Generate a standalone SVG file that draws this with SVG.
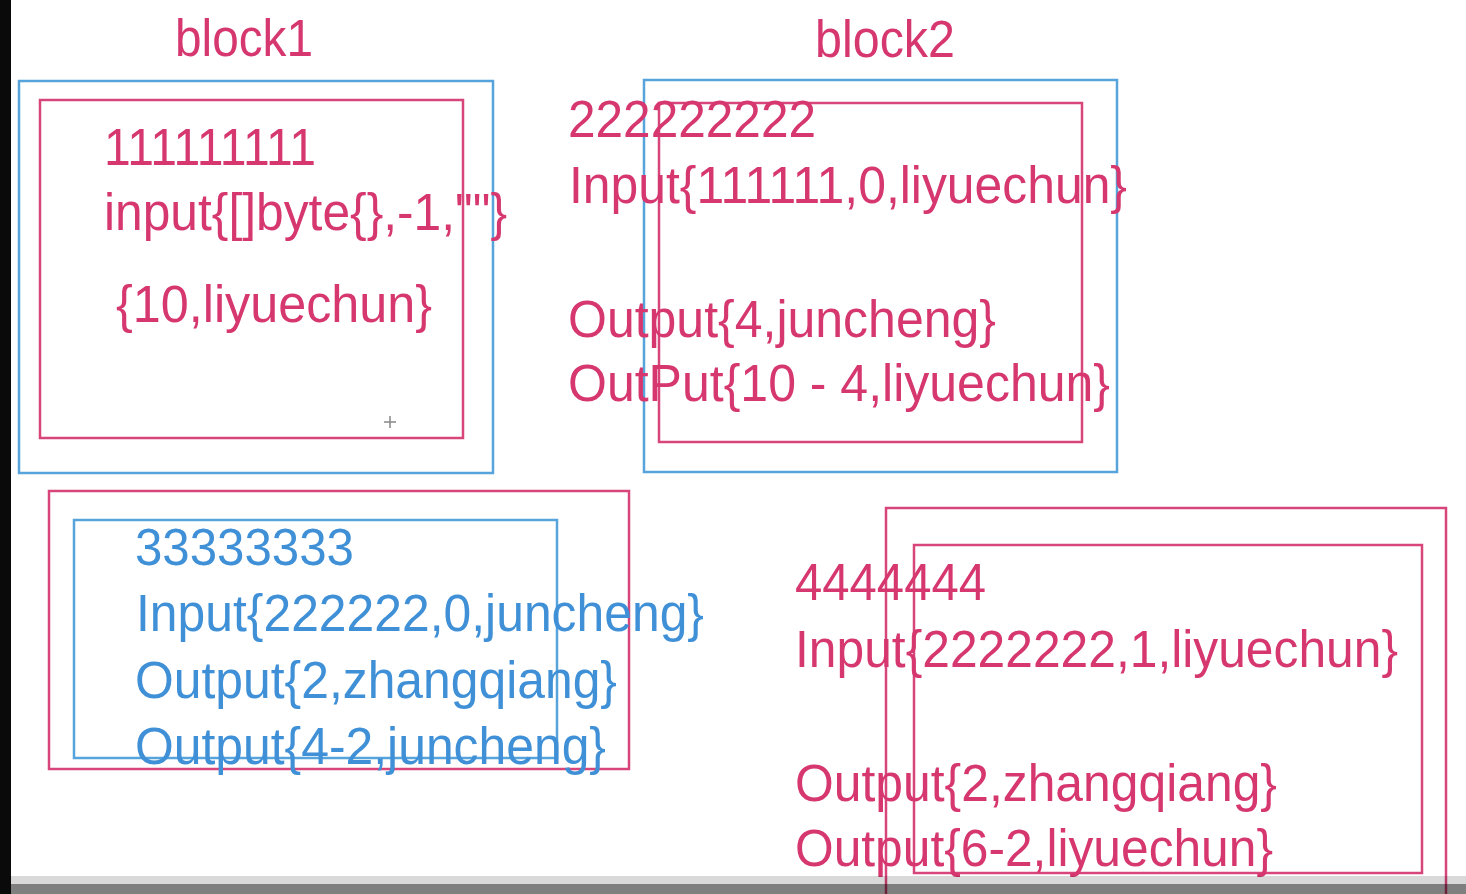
<svg xmlns="http://www.w3.org/2000/svg" width="1466" height="894" viewBox="0 0 1466 894">
<style>
.t{font-family:"Liberation Sans",Arial,Helvetica,sans-serif;font-size:51px;}
.tp{fill:#d5376e;}
.tb{fill:#3f90d6;}
.rp{fill:none;stroke:#d8457a;stroke-width:2.5;}
.rb{fill:none;stroke:#57a3dc;stroke-width:2.5;}
</style>
<rect x="0" y="0" width="1466" height="894" fill="#ffffff"/>

<g id="label-block1"><text class="t tp" x="175" y="56" textLength="138" lengthAdjust="spacingAndGlyphs">block1</text></g>
<g id="label-block2"><text class="t tp" x="815" y="57" textLength="140" lengthAdjust="spacingAndGlyphs">block2</text></g>

<g id="block1">
<rect class="rb" x="19" y="81" width="474" height="392"/>
<rect class="rp" x="40" y="100" width="423" height="338"/>
<text class="t tp" x="104" y="165" textLength="212" lengthAdjust="spacingAndGlyphs">111111111</text>
<text class="t tp" x="104" y="230" textLength="403" lengthAdjust="spacingAndGlyphs">input{[]byte{},-1,""}</text>
<text class="t tp" x="116" y="322" textLength="316" lengthAdjust="spacingAndGlyphs">{10,liyuechun}</text>
<path d="M384 422h12M390 416v12" stroke="#888" stroke-width="1.5" fill="none"/>
</g>

<g id="block2">
<rect class="rb" x="644" y="80" width="473" height="392"/>
<rect class="rp" x="659" y="103" width="423" height="339"/>
<text class="t tp" x="568" y="137" textLength="248" lengthAdjust="spacingAndGlyphs">222222222</text>
<text class="t tp" x="569" y="203" textLength="558" lengthAdjust="spacingAndGlyphs">Input{111111,0,liyuechun}</text>
<text class="t tp" x="568" y="337" textLength="428" lengthAdjust="spacingAndGlyphs">Output{4,juncheng}</text>
<text class="t tp" x="568" y="401" textLength="542" lengthAdjust="spacingAndGlyphs">OutPut{10 - 4,liyuechun}</text>
</g>

<g id="block3">
<rect class="rp" x="49" y="491" width="580" height="278"/>
<rect class="rb" x="74" y="520" width="483" height="238"/>
<text class="t tb" x="135" y="565" textLength="219" lengthAdjust="spacingAndGlyphs">33333333</text>
<text class="t tb" x="136" y="631" textLength="568" lengthAdjust="spacingAndGlyphs">Input{222222,0,juncheng}</text>
<text class="t tb" x="135" y="698" textLength="482" lengthAdjust="spacingAndGlyphs">Output{2,zhangqiang}</text>
<text class="t tb" x="135" y="764" textLength="471" lengthAdjust="spacingAndGlyphs">Output{4-2,juncheng}</text>
</g>

<g id="block4">
<rect class="rp" x="886" y="508" width="560" height="420"/>
<rect class="rp" x="914" y="545" width="508" height="328"/>
<text class="t tp" x="795" y="600" textLength="191" lengthAdjust="spacingAndGlyphs">4444444</text>
<text class="t tp" x="795" y="667" textLength="603" lengthAdjust="spacingAndGlyphs">Input{2222222,1,liyuechun}</text>
<text class="t tp" x="795" y="801" textLength="482" lengthAdjust="spacingAndGlyphs">Output{2,zhangqiang}</text>
<text class="t tp" x="795" y="866" textLength="478" lengthAdjust="spacingAndGlyphs">Output{6-2,liyuechun}</text>
</g>

<g id="connectors"></g>

<g id="bottom-bar">
<rect x="0" y="876" width="1466" height="8" fill="#000" opacity="0.15"/>
<rect x="0" y="884" width="1466" height="10" fill="#000" opacity="0.5"/>
</g>
<rect x="0" y="0" width="11" height="894" fill="#0a0a0a"/>
</svg>
